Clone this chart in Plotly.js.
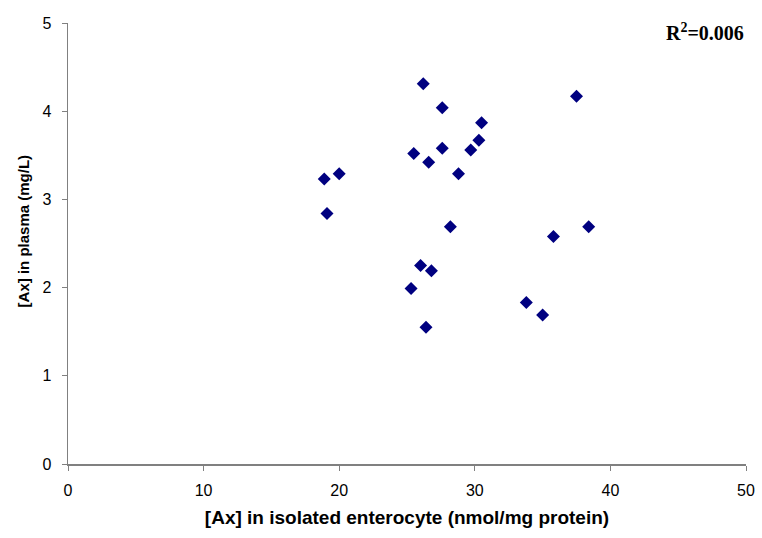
<!DOCTYPE html>
<html>
<head>
<meta charset="utf-8">
<script src="https://cdn.plot.ly/plotly-3.0.1.min.js"></script>
<style>html,body{margin:0;padding:0;background:#fff;}#chart{width:762px;height:538px;}</style>
</head>
<body>
<div id="chart"></div>
<script>
var enterocyteAx = [26.2, 27.6, 30.5, 30.3, 29.7, 27.6, 25.5, 26.6, 28.8, 20.0, 18.9, 19.1, 28.2, 35.8, 26.0, 26.8, 25.3, 33.8, 35.0, 26.4, 37.5, 38.4];
var plasmaAx =     [4.31, 4.04, 3.87, 3.67, 3.56, 3.58, 3.52, 3.42, 3.29, 3.29, 3.23, 2.84, 2.69, 2.58, 2.25, 2.19, 1.99, 1.83, 1.69, 1.55, 4.17, 2.69];
var xTicks = [0, 10, 20, 30, 40, 50];
var yTicks = [0, 1, 2, 3, 4, 5];
var xTitle = "[Ax] in isolated enterocyte (nmol/mg protein)";
var yTitle = "[Ax] in plasma (mg/L)";
var r2Label = "R<sup>2</sup>=0.006";

var trace = {
  x: enterocyteAx, y: plasmaAx, type: "scatter", mode: "markers",
  marker: {symbol: "diamond", size: 10, color: "#000080", line: {width: 0}},
  hoverinfo: "x+y"
};
var tickFont = {family: "Liberation Sans, Arial, sans-serif", size: 16, color: "#000"};
var layout = {
  width: 762, height: 538,
  margin: {l: 68, r: 16, t: 23, b: 74},
  paper_bgcolor: "#fff", plot_bgcolor: "#fff",
  showlegend: false,
  xaxis: {
    range: [0, 50], tickvals: xTicks, ticktext: xTicks.map(String),
    showgrid: false, zeroline: false, showline: true, linecolor: "#808080", linewidth: 1.5,
    ticks: "outside", ticklen: 5, tickcolor: "#808080", tickwidth: 1,
    tickfont: tickFont, ticklabelstandoff: 6,
    title: {text: "<b>" + xTitle + "</b>", font: {family: "Liberation Sans, Arial, sans-serif", size: 19, color: "#000"}, standoff: 13}
  },
  yaxis: {
    range: [0, 5], tickvals: yTicks, ticktext: yTicks.map(String),
    showgrid: false, zeroline: false, showline: true, linecolor: "#808080", linewidth: 1.5,
    ticks: "outside", ticklen: 5, tickcolor: "#808080", tickwidth: 1,
    tickfont: tickFont, ticklabelstandoff: 7
  },
  annotations: [{
    xref: "paper", yref: "paper", x: 1, y: 0.98, xanchor: "right", yanchor: "middle",
    text: "<b>" + r2Label + "</b>", showarrow: false,
    font: {family: "Liberation Serif, Times New Roman, serif", size: 20, color: "#000"}
  }, {
    xref: "paper", yref: "paper", x: -0.066, y: 0.528, xanchor: "center", yanchor: "middle",
    textangle: -90, text: "<b>" + yTitle + "</b>", showarrow: false,
    font: {family: "Liberation Sans, Arial, sans-serif", size: 15, color: "#000"}
  }]
};
Plotly.newPlot("chart", [trace], layout, {displayModeBar: false, staticPlot: true});
</script>
</body>
</html>
